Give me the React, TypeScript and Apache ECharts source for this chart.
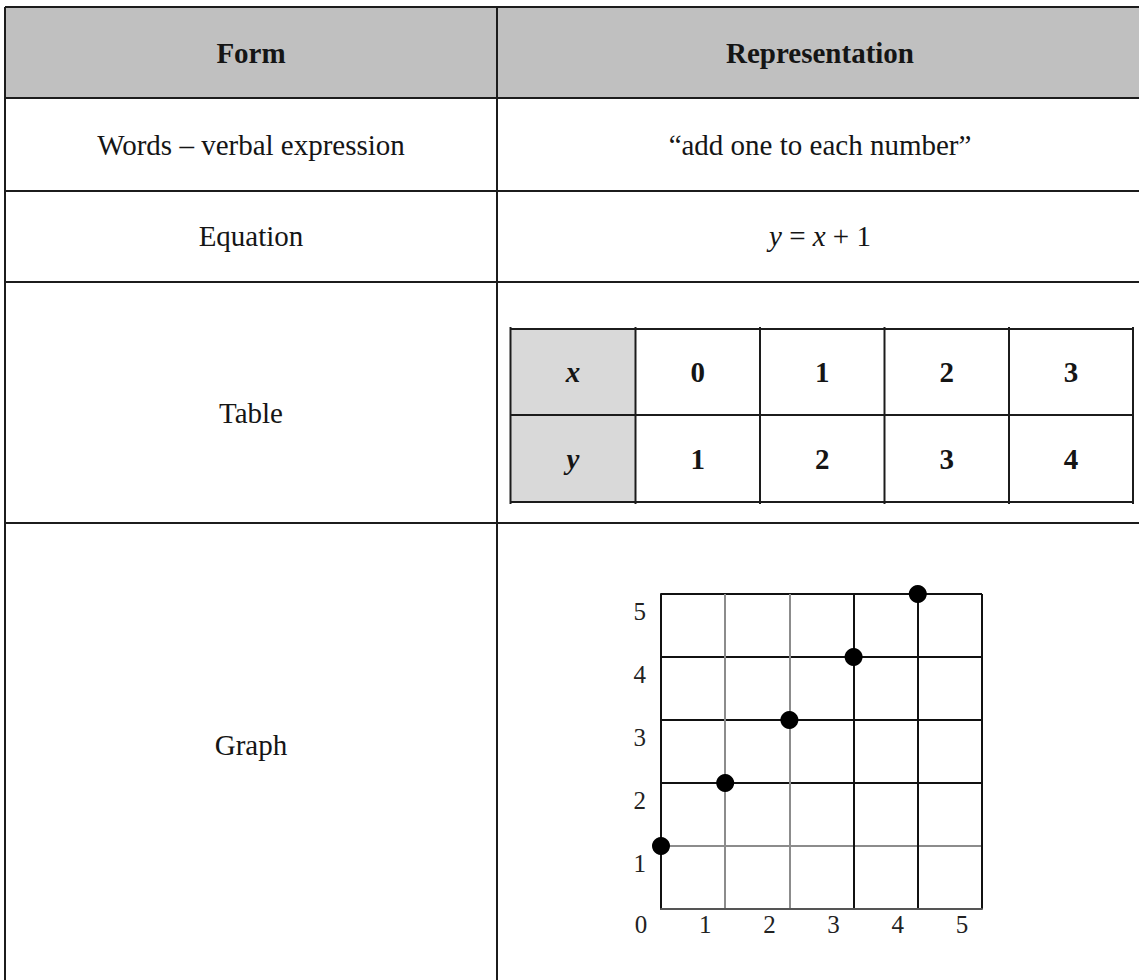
import { useEffect, useRef } from 'react';
import * as echarts from 'echarts';

// ---- content ----
const headers = ['Form', 'Representation'];
const formNames = ['Words – verbal expression', 'Equation', 'Table', 'Graph'];
const verbalText = '“add one to each number”';
const equationRich = '{i|y} = {i|x} + 1';
const tableVarNames = ['x', 'y'];
const tableX = [0, 1, 2, 3];
const tableY = [1, 2, 3, 4];
const graphX = [0, 1, 2, 3, 4];
const graphY = [1, 2, 3, 4, 5];
const axisMin = 0;
const axisMax = 5;
const axisStep = 1;

// ---- styling / layout ----
const FONT = '"Liberation Serif", "Times New Roman", serif';
const INK = '#151515';
const LINE = '#1c1c1c';
const GRAY_LINE = '#8c8c8c';

const L = 5;
const T = 7;
const DIV_X = 497;
const R = 1150;
const BOTTOM = 990;
const ROW_LINES = [98, 191, 282, 523];
const FORM_Y = [145, 236, 413, 745];
const HEADER_Y = 53;
const LEFT_CX = 251;
const RIGHT_CX = 820;

const IN_COLS = [510.5, 635.5, 760, 884.5, 1009, 1133];
const IN_ROWS = [329, 415, 502];

const GRID = { left: 661, top: 594, width: 321, height: 315 };

function txt(text: string, x: number, y: number, extra: any = {}) {
  return {
    type: 'text',
    x,
    y,
    z: 10,
    silent: true,
    style: {
      text,
      align: 'center',
      verticalAlign: 'middle',
      fontFamily: FONT,
      fontSize: 29,
      fill: INK,
      ...extra,
    },
  };
}

function ln(x1: number, y1: number, x2: number, y2: number, w = 2) {
  return {
    type: 'line',
    z: 8,
    silent: true,
    shape: { x1, y1, x2, y2 },
    style: { stroke: LINE, lineWidth: w },
  };
}

function buildGraphics() {
  const g: any[] = [];
  g.push({
    type: 'rect',
    z: 1,
    silent: true,
    shape: { x: L, y: T, width: R - L, height: ROW_LINES[0] - T },
    style: { fill: '#c0c0c0' },
  });
  g.push({
    type: 'rect',
    z: 1,
    silent: true,
    shape: { x: IN_COLS[0], y: IN_ROWS[0], width: IN_COLS[1] - IN_COLS[0], height: IN_ROWS[2] - IN_ROWS[0] },
    style: { fill: '#d9d9d9' },
  });
  g.push(ln(L, T, R, T));
  ROW_LINES.forEach((y) => g.push(ln(L, y, R, y)));
  g.push(ln(L, T, L, BOTTOM));
  g.push(ln(DIV_X, T, DIV_X, BOTTOM));
  IN_ROWS.forEach((y) => g.push(ln(IN_COLS[0], y, IN_COLS[IN_COLS.length - 1], y)));
  IN_COLS.forEach((x) => g.push(ln(x, IN_ROWS[0] - 2, x, IN_ROWS[2] + 2)));

  g.push(txt(headers[0], LEFT_CX, HEADER_Y, { fontWeight: 'bold' }));
  g.push(txt(headers[1], RIGHT_CX, HEADER_Y, { fontWeight: 'bold' }));
  formNames.forEach((n, i) => g.push(txt(n, LEFT_CX, FORM_Y[i])));
  g.push(txt(verbalText, RIGHT_CX, FORM_Y[0]));
  g.push(
    txt(equationRich, RIGHT_CX, FORM_Y[1], {
      rich: { i: { fontStyle: 'italic', fontFamily: FONT, fontSize: 29, fill: INK } },
    })
  );
  const rowsY = [(IN_ROWS[0] + IN_ROWS[1]) / 2, (IN_ROWS[1] + IN_ROWS[2]) / 2];
  const vals = [tableX, tableY];
  tableVarNames.forEach((name, r) => {
    g.push(txt(name, (IN_COLS[0] + IN_COLS[1]) / 2, rowsY[r], { fontWeight: 'bold', fontStyle: 'italic' }));
    vals[r].forEach((v, c) => {
      g.push(txt(String(v), (IN_COLS[c + 1] + IN_COLS[c + 2]) / 2, rowsY[r], { fontWeight: 'bold' }));
    });
  });
  return g;
}

export default function App() {
  const ref = useRef<HTMLDivElement>(null);
  useEffect(() => {
    if (!ref.current) return;
    const chart = echarts.init(ref.current, undefined, { renderer: 'svg' });
    const points = graphX.map((x, i) => [x, graphY[i]]);
    chart.setOption({
      animation: false,
      backgroundColor: '#ffffff',
      graphic: buildGraphics(),
      grid: { ...GRID, containLabel: false },
      xAxis: {
        type: 'value',
        min: axisMin,
        max: axisMax,
        interval: axisStep,
        axisLine: { show: true, onZero: false, lineStyle: { color: '#555', width: 2 } },
        axisTick: { show: false },
        axisLabel: {
          fontFamily: FONT,
          fontSize: 25,
          color: '#222',
          margin: 3,
          padding: [0, 40, 0, 0],
          showMinLabel: true,
          showMaxLabel: true,
        },
        splitLine: {
          show: true,
          lineStyle: { color: ['#111', GRAY_LINE, GRAY_LINE, '#111', '#111', '#111'], width: 2 },
        },
      },
      yAxis: {
        type: 'value',
        min: axisMin,
        max: axisMax,
        interval: axisStep,
        axisLine: { show: true, onZero: false, lineStyle: { color: '#111', width: 2 } },
        axisTick: { show: false },
        axisLabel: {
          fontFamily: FONT,
          fontSize: 25,
          color: '#222',
          margin: 15,
          formatter: (v: number) => '{s| }\n{n|' + v + '}',
          rich: {
            s: { lineHeight: 34, height: 34, fontSize: 10 },
            n: { lineHeight: 24, fontSize: 25, fontFamily: FONT, color: '#222' },
          },
          showMinLabel: false,
          showMaxLabel: true,
        },
        splitLine: {
          show: true,
          lineStyle: { color: ['#111', GRAY_LINE, '#111', '#111', '#111', '#111'], width: 2 },
        },
      },
      series: [
        {
          type: 'scatter',
          data: points,
          symbol: 'circle',
          symbolSize: 18,
          itemStyle: { color: '#000', opacity: 1 },
          z: 20,
        },
      ],
    });
    return () => chart.dispose();
  }, []);
  return (
    <div
      ref={ref}
      style={{ position: 'fixed', left: 0, top: 0, width: 1139, height: 980, background: '#fff' }}
    />
  );
}
